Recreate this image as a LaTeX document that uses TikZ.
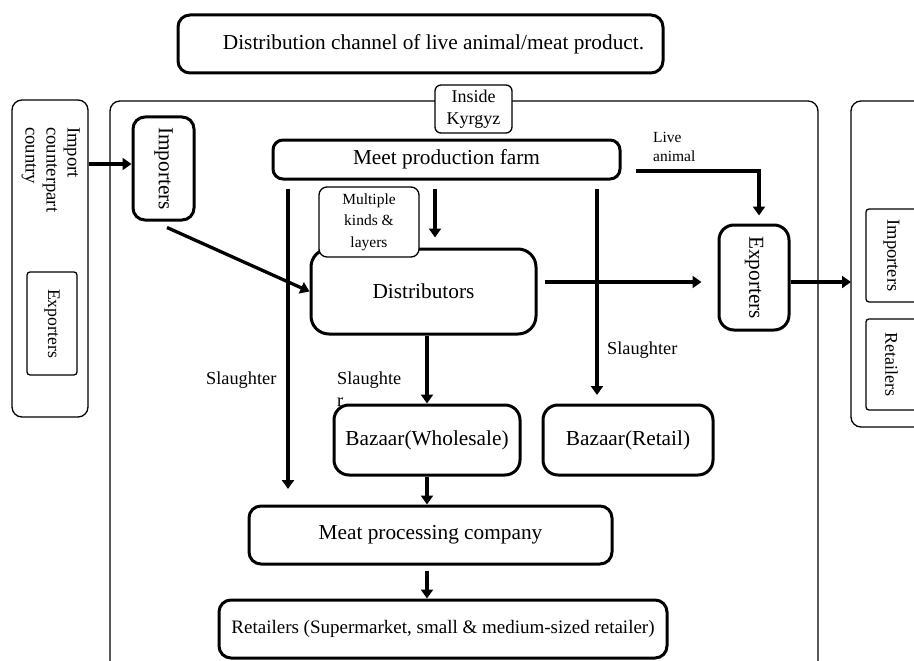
\documentclass[tikz,border=0pt]{standalone}
\usepackage{fontspec}
\setmainfont{Liberation Serif}
\usetikzlibrary{arrows.meta}
\newcommand{\fsz}[2]{\fontsize{#1}{#2}\selectfont}

\begin{document}
\begin{tikzpicture}[x=1pt,y=-1pt,
  boxthick/.style={draw, line width=3pt, rounded corners=#1, inner sep=0pt, fill=white, font=\fsz{21.3}{25}},
  boxthick/.default=12pt,
  boxthin/.style={draw, line width=1.3pt, rounded corners=#1, inner sep=0pt, fill=white},
  boxthin/.default=8pt,
  frame/.style={draw, line width=1.3pt, rounded corners=10pt},
  flow/.style={line width=3.3pt, -{Triangle[width=12pt,length=9pt]}},
  lbl/.style={inner sep=0pt, font=\fsz{18.3}{22}, align=left},
]
\useasboundingbox (0,0) rectangle (914,661);
\clip (0,0) rectangle (914,661);

% title
\node[boxthick, minimum width=485pt, minimum height=58pt] (title) at (420.5,44)
  {\hspace*{26pt}Distribution channel of live animal/meat product.};

% importing country
\node[boxthin=10pt, fill=none, minimum width=76pt, minimum height=317pt] (lbox) at (50,258.5) {};
\node[lbl, rotate=-90, anchor=north west, font=\fsz{18.7}{21}] (lboxlbl) at (80,127)
  {Import\\counterpart\\country};
\node[boxthin=3pt, rotate=-90, minimum width=103pt, minimum height=50pt, font=\fsz{17.7}{20}] (lexp) at (52,323.5) {Exporters};

% domestic frame
\draw[frame] (110,700) -- (110,101) -- (818,101) -- (818,700);

% exporting destination
\draw[frame] (960,101) -- (851,101) -- (851,427) -- (960,427);
\coordinate (rbw) at (851,264);
\node[boxthin=3pt, rotate=-90, minimum width=93pt, minimum height=51pt, font=\fsz{18.5}{21}] (rimp) at (891.5,255.5) {Importers};
\node[boxthin=3pt, rotate=-90, minimum width=91pt, minimum height=51pt, font=\fsz{18}{21}] (rret) at (891.5,364.5) {Retailers};

\node[boxthin=6pt, minimum width=77pt, minimum height=48pt, align=center, font=\fsz{18}{22}] (inside) at (473.5,109) {Inside\\Kyrgyz};

% actors
\node[boxthick=12pt, rotate=-90, minimum width=103pt, minimum height=61pt] (imp) at (163.5,168.5) {Importers};
\node[boxthick=10pt, minimum width=347pt, minimum height=39pt] (farm) at (446.5,159.5) {Meet production farm};
\node[boxthick=18pt, minimum width=225pt, minimum height=85pt] (dist) at (423.5,291.5) {Distributors};
\node[boxthin=8pt, minimum width=100pt, minimum height=70pt, align=center, font=\fsz{15.5}{21.5}] (multi) at (369,222) {Multiple\\kinds \&\\layers};
\node[boxthick=15pt, rotate=-90, minimum width=105pt, minimum height=70pt] (exp) at (754,277.5) {Exporters};

% labels
\node[lbl, anchor=west] (sl1) at (206,380) {Slaughter};
\node[lbl, anchor=north west] (sl2) at (337,372) {Slaughte\\r};
\node[lbl, anchor=west] (sl3) at (607,350) {Slaughter};
\node[lbl, anchor=west, font=\fsz{15.5}{19}] (live) at (653,146.5) {Live\\animal};

\node[boxthick=15pt, minimum width=186pt, minimum height=70pt] (bw) at (427,440) {Bazaar(Wholesale)};
\node[boxthick=15pt, minimum width=170pt, minimum height=70pt] (br) at (628,440) {Bazaar(Retail)};
\node[boxthick=12pt, minimum width=363pt, minimum height=58pt] (meat) at (430.5,535) {Meat processing company};
\node[boxthick=12pt, minimum width=448pt, minimum height=58pt, font=\fsz{19}{22}] (retail) at (443,629)
  {\raisebox{4pt}{Retailers (Supermarket, small \& medium-sized retailer)}};

% flows
\coordinate (ya) at (0,282);
\coordinate (yb) at (0,164);
\coordinate (liveA) at (636,171);
\coordinate (slA) at (288,489);
\coordinate (slB) at (597,395);

\draw[flow] (lbox.east |- yb) -- (imp.south |- yb);
\draw[flow] ([xshift=3.5pt,yshift=-6pt]imp.east) -- (dist.west);
\draw[flow, shorten <=8pt, shorten >=10pt] ([xshift=-11.5pt]farm.south) -- ([xshift=-11.5pt]farm.south |- dist.north);
\draw[flow, shorten <=8pt] (slA |- farm.south) -- (slA);
\draw[flow, shorten <=8pt] (slB |- farm.south) -- (slB);
\draw[flow, shorten >=8pt] (liveA) -| ([xshift=5pt]exp.west);
\draw[flow, shorten <=7pt, shorten >=16pt] (dist.east |- ya) -- (exp.south |- ya);
\draw[flow] (exp.north |- ya) -- (rbw |- ya);
\draw[flow] (bw.north |- dist.south) -- (bw.north);
\draw[flow] (bw.south) -- (bw.south |- meat.north);
\draw[flow, shorten <=5pt] (bw.south |- meat.south) -- (bw.south |- retail.north);
\end{tikzpicture}
\end{document}
